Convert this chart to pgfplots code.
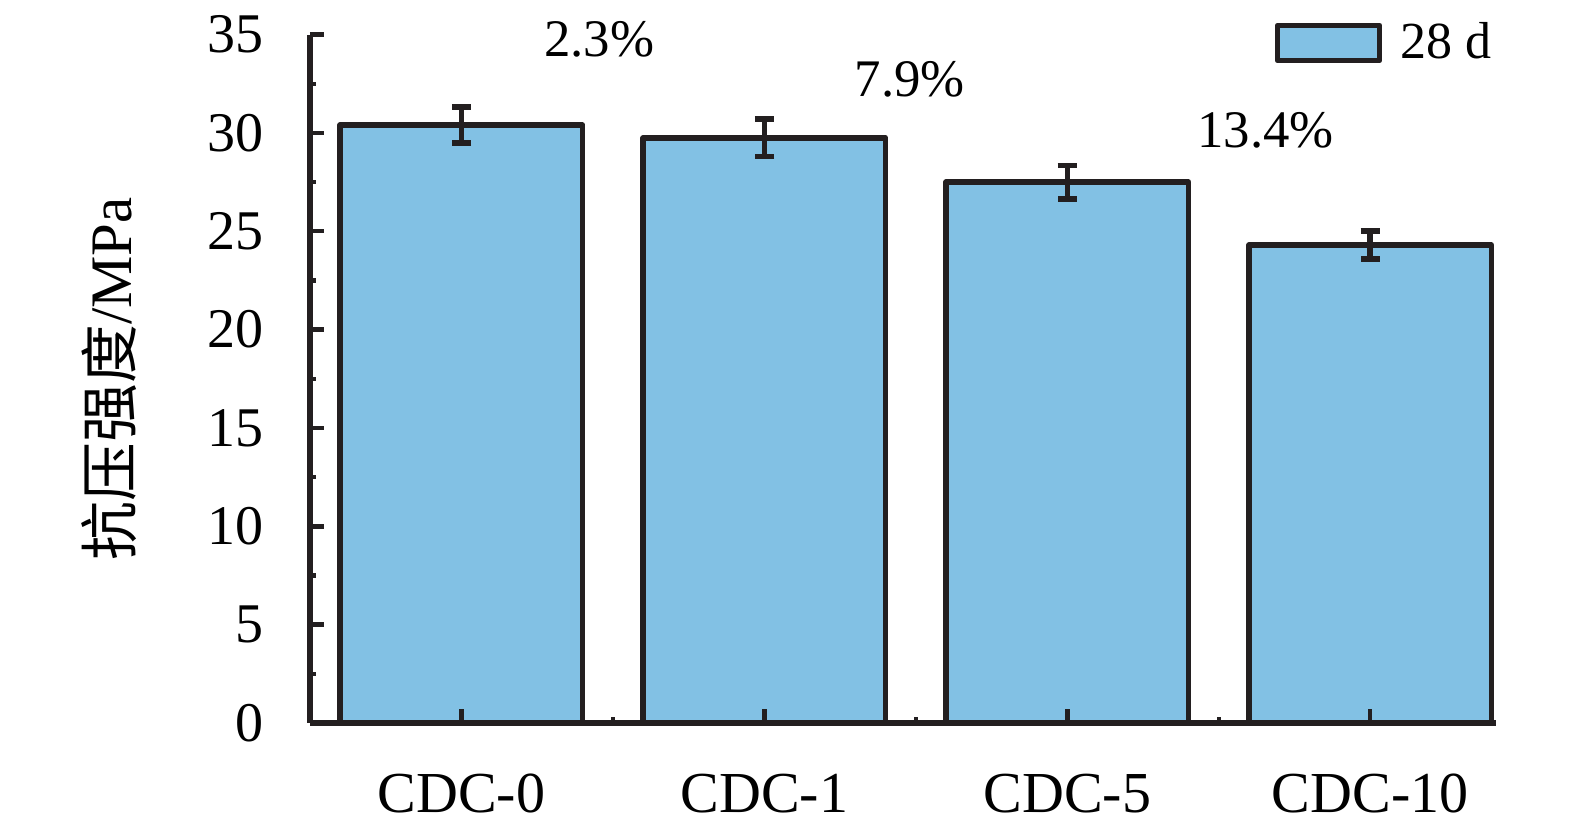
\documentclass[border=0pt]{standalone}
\usepackage{pgfplots}
\pgfplotsset{compat=1.18}
\usepackage{fontspec}
\setmainfont{Liberation Serif}
\newfontfamily\cjk{Noto Sans CJK SC}
\definecolor{barblue}{RGB}{130,193,228}
\definecolor{ink}{RGB}{35,31,32}
\pgfplotstableread{
x y e
0 30.40 0.92
1 29.75 0.95
2 27.50 0.85
3 24.30 0.72
}\strength
\begin{document}
\begin{tikzpicture}
\path[use as bounding box] (-77.5pt,-27.5pt) rectangle (316.25pt,180.75pt);
\begin{axis}[
  scale only axis,
  width=296.5pt, height=172.1pt,
  xmin=-0.5, xmax=3.415,
  ymin=0, ymax=35,
  axis on top,
  axis x line*=bottom, axis y line*=left,
  axis line style={line width=1.6pt, ink},
  tick align=inside,
  xtick={0,1,2,3},
  xticklabels={CDC-0,CDC-1,CDC-5,CDC-10},
  minor xtick={0.5,1.5,2.5},
  ytick={0,5,...,35},
  minor ytick={2.5,7.5,...,32.5},
  major tick length=3.5pt,
  minor tick length=1.6pt,
  every tick/.style={line width=1.1pt, ink},
  /pgf/number format/assume math mode=true,
  xticklabel style={font=\fontsize{14.5pt}{16pt}\selectfont, anchor=north, inner sep=0pt, yshift=-12.5pt},
  yticklabel style={font=\fontsize{14pt}{16pt}\selectfont, anchor=east, inner sep=0pt, xshift=-11.5pt},
  ylabel={{\cjk 抗压强度}/MPa},
  ylabel style={font=\fontsize{14.7pt}{16pt}\selectfont, at={(axis description cs:-0.169,0.5)}, anchor=center},
  legend style={draw=none, fill=none, at={(axis description cs:0.8135,1.03)}, anchor=north west,
    font=\fontsize{13pt}{14pt}\selectfont, inner sep=0pt, outer sep=0pt},
  legend image code/.code={\draw[#1, line width=1.4pt] (0pt,-4.4pt) rectangle (25.5pt,4.4pt); \path (28pt,0pt);},
  clip=false,
]
\addplot[ybar, bar width=0.8, bar shift=0pt, fill=barblue, draw=ink, line width=1.4pt, line join=round,
  error bars/.cd, y dir=both, y explicit,
  error bar style={line width=1.4pt, ink},
  error mark options={rotate=90, mark size=2.4pt, line width=1.4pt, ink}]
  table[x=x, y=y, y error=e] {\strength};
\addlegendentry{28 d}
\node[font=\fontsize{13.2pt}{14pt}\selectfont] at (axis cs:0.455,34.75) {2.3\%};
\node[font=\fontsize{13.2pt}{14pt}\selectfont] at (axis cs:1.48,32.75) {7.9\%};
\node[font=\fontsize{13.2pt}{14pt}\selectfont] at (axis cs:2.655,30.15) {13.4\%};
\end{axis}
\end{tikzpicture}
\end{document}
